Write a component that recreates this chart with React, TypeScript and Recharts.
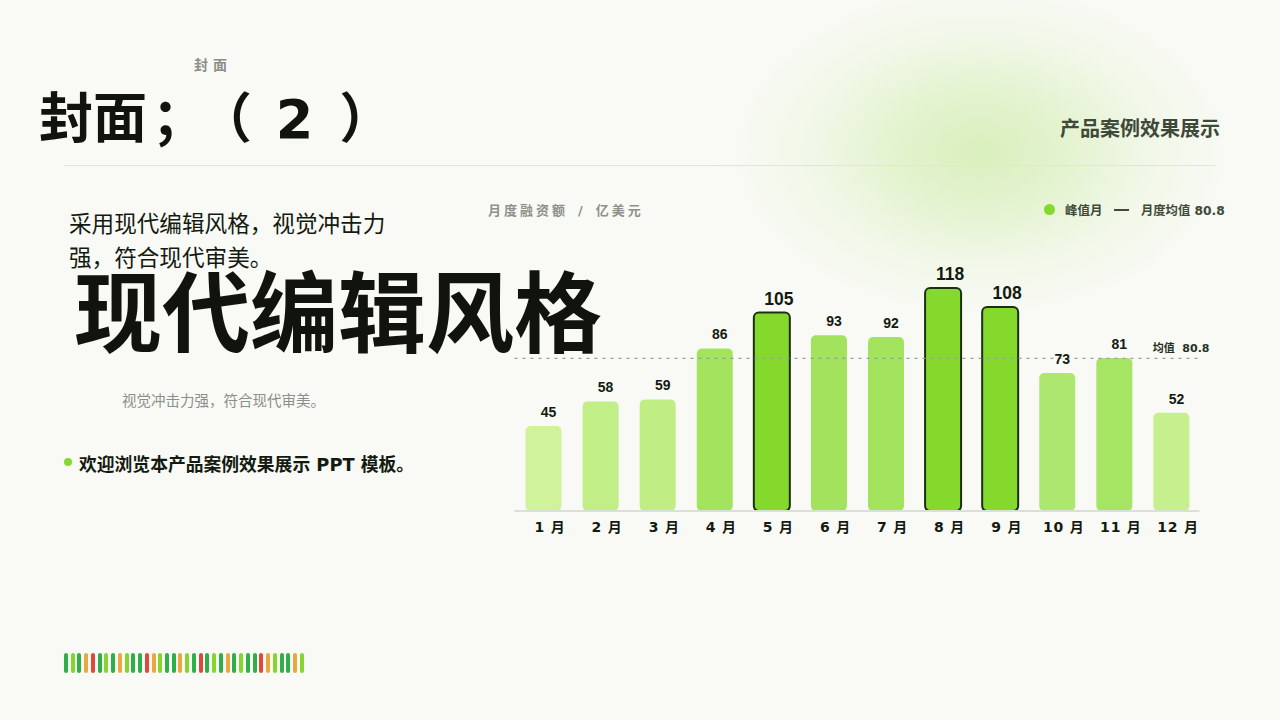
import React from 'react';
import { BarChart, Bar, Cell, XAxis, YAxis, ReferenceLine, LabelList } from 'recharts';

const months = ['1 月', '2 月', '3 月', '4 月', '5 月', '6 月', '7 月', '8 月', '9 月', '10 月', '11 月', '12 月'];
const amounts = [45, 58, 59, 86, 105, 93, 92, 118, 108, 73, 81, 52];
const barColors = ['#cff29b', '#c1ee87', '#c0ee85', '#a3e35e', '#85d82c', '#a3e25c', '#a4e35e', '#85d82c', '#85d82c', '#aee76f', '#a6e463', '#c6ef8e'];
const peakMonths = ['5 月', '8 月', '9 月'];
const meanValue = 80.8;
const stripeColors = 'glgorglgolggrolggolgrglgoglggrolggol'.split('');

const chartData = months.map((month, i) => ({ month, amount: amounts[i] }));
const stripeFill: Record<string, string> = { g: '#2fae4a', l: '#86d52e', o: '#e8a83f', r: '#e0483f' };

const latin = '"DejaVu Sans", "Noto Sans CJK SC", sans-serif';
const arial = '"Liberation Sans", "Noto Sans CJK SC", sans-serif';

const MonthTick = ({ x, y, payload }: any) => (
  <text x={x + 7} y={y + 13} textAnchor="middle" fontFamily={latin} fontSize={14} fontWeight={700} fill="#141a10" letterSpacing={0.8}>
    {payload.value}
  </text>
);

const ValueLabel = ({ x, y, width, value }: any) => {
  const peak = value >= 100;
  return (
    <text
      x={x + width / 2 + (peak ? 7 : 5)}
      y={y - (peak ? 8 : 9)}
      textAnchor="middle"
      fontFamily={arial}
      fontSize={peak ? 17.5 : 14}
      fontWeight={700}
      fill="#141a10"
    >
      {value}
    </text>
  );
};

const MeanLabel = ({ viewBox }: any) => (
  <text x={viewBox.x + viewBox.width + 10} y={viewBox.y - 6} textAnchor="end" fontFamily={latin} fontSize={11} fontWeight={700} fill="#26301f" style={{ whiteSpace: 'pre' }}>
    {`均值  ${meanValue}`}
  </text>
);

const Txt = ({ x, y, style, children }: any) => (
  <div style={{ position: 'absolute', left: x, top: y, whiteSpace: 'nowrap', fontFamily: latin, lineHeight: 1, textSpacingTrim: 'space-all', ...style }}>{children}</div>
);

export default function App() {
  return (
    <div style={{ position: 'absolute', left: 0, top: 0, width: 1280, height: 720, overflow: 'hidden', background: '#f9faf6' }}>
      <div
        style={{
          position: 'absolute',
          left: 715,
          top: -25,
          width: 530,
          height: 350,
          background: 'radial-gradient(closest-side, rgba(196,232,150,0.6) 0%, rgba(204,235,165,0.46) 35%, rgba(218,240,190,0.24) 65%, rgba(249,251,246,0) 100%)',
        }}
      />
      <div style={{ position: 'absolute', left: 64, top: 165, width: 1152, height: 1, background: '#e2e5de' }} />

      <div style={{ position: 'absolute', left: 0, top: 0 }}>
        <BarChart width={1280} height={720} data={chartData} margin={{ top: 246.4, right: 80.5, bottom: 179, left: 514.5 }} barSize={36}>
          <XAxis
            dataKey="month"
            interval={0}
            height={30}
            tick={<MonthTick />}
            tickLine={false}
            axisLine={{ stroke: '#dcdfd8', strokeWidth: 2 }}
          />
          <YAxis hide width={0} domain={[0, 140]} />
          <ReferenceLine y={meanValue} stroke="#9a9d96" strokeWidth={1.3} strokeDasharray="3 5" label={<MeanLabel />} />
          <Bar dataKey="amount" radius={5} isAnimationActive={false}>
            {chartData.map((d, i) => {
              const peak = peakMonths.includes(d.month);
              return <Cell key={d.month} fill={barColors[i]} stroke={peak ? '#1c3010' : 'none'} strokeWidth={peak ? 2 : 0} />;
            })}
            <LabelList dataKey="amount" content={<ValueLabel />} />
          </Bar>
        </BarChart>
      </div>

      <Txt x={194} y={58} style={{ fontSize: 14, fontWeight: 700, color: '#8b8e88', letterSpacing: 5 }}>封面</Txt>
      <Txt x={39} y={93} style={{ fontSize: 54, fontWeight: 700, color: '#10140d' }}>
        封面
        <span style={{ marginLeft: 5 }}>；</span>
        <span style={{ marginLeft: -8 }}>（</span>
        <span style={{ marginLeft: 5 }}> 2 </span>
        <span style={{ marginLeft: 7 }}>）</span>
      </Txt>
      <Txt x={1060} y={119} style={{ fontSize: 20, fontWeight: 700, color: '#3e4939' }}>产品案例效果展示</Txt>

      <Txt x={69} y={207} style={{ fontSize: 22.6, color: '#141a10', lineHeight: '34px', whiteSpace: 'normal', width: 320 }}>
        采用现代编辑风格，视觉冲击力强，符合现代审美。
      </Txt>
      <Txt x={74} y={271} style={{ fontSize: 88, fontWeight: 700, color: '#10140d' }}>现代编辑风格</Txt>
      <Txt x={122} y={394} style={{ fontSize: 14.5, color: '#8b8f88' }}>视觉冲击力强，符合现代审美。</Txt>
      <div style={{ position: 'absolute', left: 64, top: 458, width: 8, height: 8, borderRadius: 4, background: '#85d82c' }} />
      <Txt x={79} y={456} style={{ fontSize: 17.8, fontWeight: 700, color: '#141a10' }}>欢迎浏览本产品案例效果展示 PPT 模板。</Txt>

      <Txt x={488} y={204} style={{ fontSize: 13, fontWeight: 700, color: '#8d918a', letterSpacing: 3, wordSpacing: 2.5 }}>月度融资额 / 亿美元</Txt>
      <div style={{ position: 'absolute', left: 1044, top: 204, width: 11, height: 11, borderRadius: 6, background: '#85d82c' }} />
      <Txt x={1065} y={205} style={{ fontSize: 12.5, fontWeight: 700, color: '#3e4939' }}>峰值月</Txt>
      <div style={{ position: 'absolute', left: 1114, top: 209, width: 15, height: 2, background: '#3e4939' }} />
      <Txt x={1141} y={205} style={{ fontSize: 12.3, fontWeight: 700, color: '#3e4939' }}>月度均值 {meanValue}</Txt>

      <div style={{ position: 'absolute', left: 64, top: 653, width: 240, height: 20, display: 'flex', justifyContent: 'space-between' }}>
        {stripeColors.map((c, i) => (
          <div key={i} style={{ width: 4, height: 20, borderRadius: 2, background: stripeFill[c] }} />
        ))}
      </div>
    </div>
  );
}
